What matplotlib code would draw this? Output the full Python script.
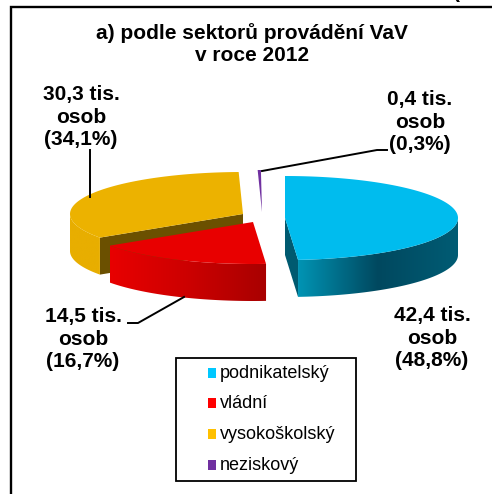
import numpy as np
import matplotlib
matplotlib.use('Agg')
import matplotlib.pyplot as plt
from matplotlib.colors import LinearSegmentedColormap
from matplotlib.patches import Polygon, Rectangle

# data
sectors = ['podnikatelský', 'vládní', 'vysokoškolský', 'neziskový']
shares = [48.8, 16.7, 34.1, 0.3]
persons = ['42,4', '14,5', '30,3', '0,4']
share_labels = ['48,8', '16,7', '34,1', '0,3']

top_colors = ['#00bcee', '#e80000', '#ecb200', '#7030a0']
legend_colors = ['#00c8ff', '#ff0000', '#ffc000', '#7030a0']
wall_stops = [['#0094b4', '#00485f', '#005c74'],
              ['#e80000', '#cc0000', '#a80000'],
              ['#e8ae00', '#e8ae00', '#e8ae00'],
              ['#3c1a58', '#3c1a58', '#3c1a58']]
inner_colors = ['#005a70', None, '#6b5000', None]
centers = [(285, 218), (253, 222), (243, 214), (262, 212)]
RX, RY, DEPTH = 173, 42, 37

fig = plt.figure(figsize=(4.92, 4.94), dpi=100)
ax = fig.add_axes([0, 0, 1, 1])
ax.set_xlim(0, 492)
ax.set_ylim(494, 0)
ax.axis('off')


def rim(c, theta):
    return np.column_stack([c[0] + RX * np.sin(theta), c[1] - RY * np.cos(theta)])


# slices go clockwise from 12 o'clock
edges = np.radians(np.cumsum([0] + shares) * 3.6)
for i in [3, 2, 1, 0]:
    a, b = edges[i], edges[i + 1]
    c = centers[i]
    theta = np.linspace(a, b, 200)
    if inner_colors[i]:
        # cut face: end of the blue slice, start of the yellow one
        p = rim(c, np.array([b if i == 0 else a]))[0]
        ax.add_patch(Polygon([c, p, p + [0, DEPTH], (c[0], c[1] + DEPTH)],
                             fc=inner_colors[i], ec='none', zorder=i * -3 + 10))
    # outer wall, only the front half of the rim shows
    lo, hi = max(a, np.pi / 2), min(b, 3 * np.pi / 2)
    if hi > lo:
        t = np.linspace(lo, hi, 200)
        r = rim(c, t)
        wall = np.vstack([r, (r + [0, DEPTH])[::-1]])
        poly = Polygon(wall, fc='none', ec='none', zorder=i * -3 + 10)
        ax.add_patch(poly)
        cmap = LinearSegmentedColormap.from_list('w', wall_stops[i])
        x0, x1 = wall[:, 0].min(), wall[:, 0].max()
        im = ax.imshow(np.linspace(0, 1, 256)[None, :], cmap=cmap, aspect='auto',
                       extent=(x0, x1, wall[:, 1].max(), wall[:, 1].min()),
                       zorder=i * -3 + 10)
        im.set_clip_path(poly)
    ax.add_patch(Polygon(np.vstack([[c], rim(c, theta)]), fc=top_colors[i], ec='none',
                         zorder=i * -3 + 11))
ax.set_xlim(0, 492)
ax.set_ylim(494, 0)

# frame
ax.plot([11, 11, 492], [494, 7, 7], color='black', lw=1.7, solid_joinstyle='miter')

FONT = ['Liberation Sans', 'DejaVu Sans']
bold = dict(family=FONT, weight='bold', ha='center', va='center', color='black', linespacing=1.25)
ax.text(252, 44, 'a) podle sektorů provádění VaV\nv roce 2012', fontsize=15, **bold)

label_pos = [(432, 338), (83, 339), (81, 117), (420, 122)]
for i in range(4):
    ax.text(label_pos[i][0], label_pos[i][1],
            f'{persons[i]} tis.\nosob\n({share_labels[i]}%)', fontsize=15, **bold)

# bit of the neighbouring label, cut off by the top edge
ax.text(457, -7, '(', fontsize=15, **bold)

# leader lines
ax.plot([90, 90], [150, 197], color='black', lw=1.4, zorder=20)
ax.plot([184, 138, 128], [297, 323, 323], color='black', lw=1.4, zorder=20)
ax.plot([262, 377, 387], [171, 150, 150], color='black', lw=1.4, zorder=20)

# legend box
ax.add_patch(Rectangle((176, 358), 180, 123, fc='white', ec='black', lw=1.3, zorder=21))
legend_y = [373, 403, 434, 465]
for name, col, y in zip(sectors, legend_colors, legend_y):
    ax.add_patch(Rectangle((208, y - 5), 8, 10, fc=col, ec='none', zorder=22))
    ax.text(220, y, name, family=FONT, fontsize=13, va='center', ha='left', zorder=22)

fig.savefig('out.png', dpi=100)
